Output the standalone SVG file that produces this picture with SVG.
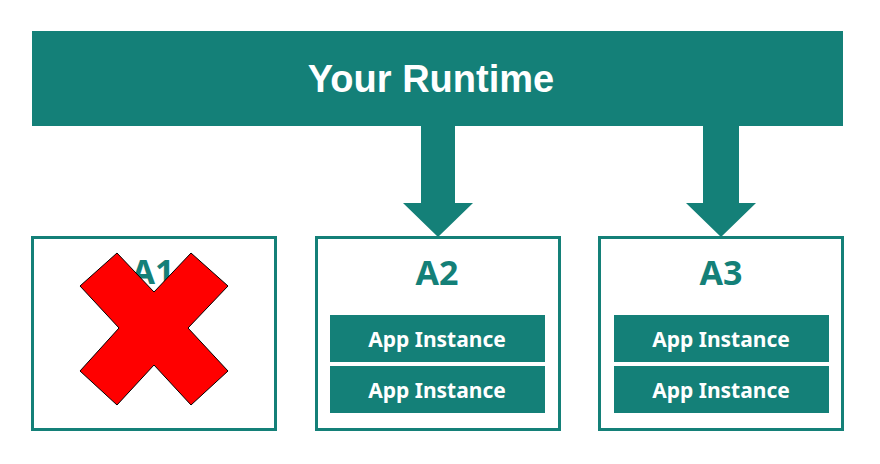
<svg xmlns="http://www.w3.org/2000/svg" width="880" height="464" viewBox="0 0 880 464">
<style>
.box{fill:#fff;stroke:#148078;stroke-width:3}
.inst{fill:#148078}
.lbl{font-family:"Noto Sans","Open Sans",sans-serif;font-weight:bold;fill:#148078;font-size:34px;text-anchor:middle}
.itxt{font-family:"Noto Sans","Open Sans",sans-serif;font-weight:bold;fill:#fff;font-size:21px;text-anchor:middle}
.arrow{fill:#148078}
</style>
<rect width="880" height="464" fill="#fff"/>
<g id="runtime">
<rect x="32" y="31" width="811" height="95" fill="#148078"/>
<text x="431" y="92" font-family="Liberation Sans, Arial, sans-serif" font-weight="bold" font-size="38" fill="#fff" text-anchor="middle">Your Runtime</text>
</g>
<g id="connectors">
<polygon class="arrow" points="421,125 455,125 455,203 473,203 438,237 403,203 421,203"/>
<polygon class="arrow" points="703,125 739,125 739,203 756,203 721,237 686,203 703,203"/>
</g>
<g id="A1">
<rect class="box" x="32.5" y="237.5" width="243" height="192"/>
<text class="lbl" x="153" y="284">A1</text>
<polygon points="80,286 117,253 154,292 191,253 228,286 188,328 228,371 191,405 154,365 117,405 80,371 119,328" fill="#ff0000" stroke="#000" stroke-width="1"/>
</g>
<g id="A2">
<rect class="box" x="316.5" y="237.5" width="243" height="192"/>
<text class="lbl" x="437" y="285">A2</text>
<rect class="inst" x="330" y="315" width="215" height="47"/>
<text class="itxt" x="437" y="347">App Instance</text>
<rect class="inst" x="330" y="366" width="215" height="47"/>
<text class="itxt" x="437" y="398">App Instance</text>
</g>
<g id="A3">
<rect class="box" x="599.5" y="237.5" width="243" height="192"/>
<text class="lbl" x="721" y="285">A3</text>
<rect class="inst" x="614" y="315" width="215" height="47"/>
<text class="itxt" x="721" y="347">App Instance</text>
<rect class="inst" x="614" y="366" width="215" height="47"/>
<text class="itxt" x="721" y="398">App Instance</text>
</g>
</svg>
